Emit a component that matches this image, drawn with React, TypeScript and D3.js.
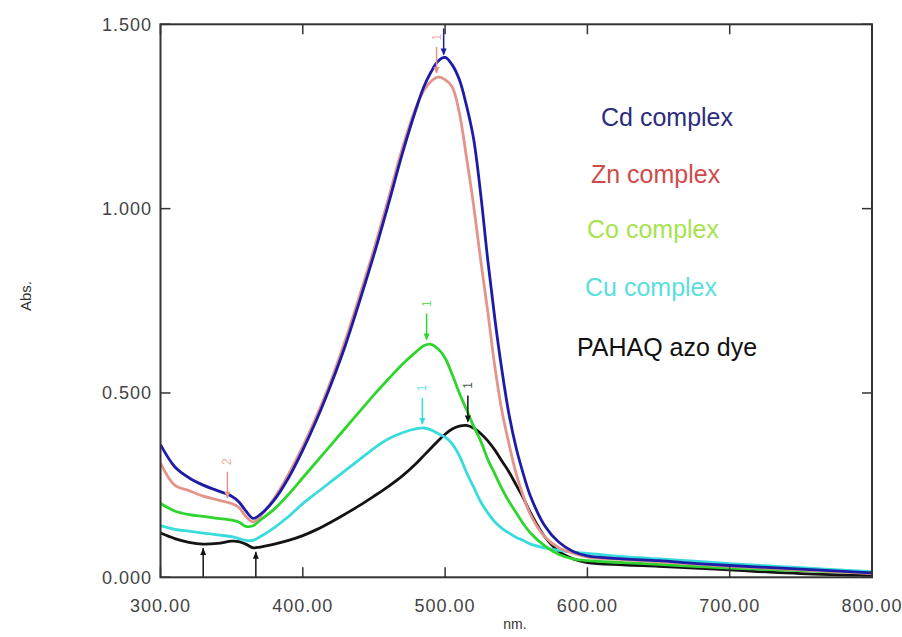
import { useMemo } from 'react'
import * as d3 from 'd3'

// wavelength grid (nm) shared by all spectra
const wavelengths = [
  300, 310, 320, 330, 340, 350, 355, 360, 365, 370, 380, 390, 400, 410, 420, 430, 440, 450,
  460, 470, 480, 485, 490, 495, 500, 505, 510, 515, 520, 525, 530, 535, 540, 545, 550, 555,
  560, 570, 580, 590, 600, 625, 650, 675, 700, 750, 800,
]

const cdAbs = [
  0.36, 0.30, 0.27, 0.25, 0.235, 0.22, 0.205, 0.18, 0.16, 0.17, 0.21, 0.27, 0.345, 0.43, 0.525, 0.63, 0.75, 0.875,
  1.01, 1.15, 1.275, 1.33, 1.37, 1.40, 1.41, 1.39, 1.35, 1.28, 1.19, 1.04, 0.86, 0.70, 0.56, 0.44, 0.35, 0.28,
  0.22, 0.14, 0.095, 0.07, 0.058, 0.05, 0.045, 0.038, 0.032, 0.022, 0.012,
]

const znAbs = [
  0.31, 0.25, 0.235, 0.22, 0.21, 0.2, 0.19, 0.165, 0.15, 0.165, 0.215, 0.28, 0.355, 0.44, 0.535, 0.645, 0.765, 0.89,
  1.025, 1.165, 1.28, 1.32, 1.345, 1.357, 1.35, 1.33, 1.26, 1.14, 1.01, 0.86, 0.72, 0.57, 0.45, 0.36, 0.28, 0.22,
  0.17, 0.11, 0.08, 0.065, 0.055, 0.048, 0.042, 0.036, 0.03, 0.02, 0.01,
]

const coAbs = [
  0.2, 0.18, 0.17, 0.165, 0.16, 0.155, 0.15, 0.138, 0.14, 0.155, 0.185, 0.225, 0.27, 0.315, 0.36, 0.405, 0.45, 0.495,
  0.537, 0.578, 0.613, 0.628, 0.632, 0.62, 0.595, 0.55, 0.5, 0.455, 0.41, 0.37, 0.32, 0.28, 0.24, 0.205, 0.175, 0.145,
  0.12, 0.085, 0.062, 0.05, 0.045, 0.04, 0.035, 0.03, 0.025, 0.018, 0.012,
]

const cuAbs = [
  0.14, 0.13, 0.125, 0.12, 0.115, 0.11, 0.105, 0.1, 0.1, 0.11, 0.135, 0.165, 0.2, 0.23, 0.26, 0.29, 0.32, 0.35,
  0.375, 0.392, 0.403, 0.405, 0.4, 0.39, 0.38, 0.362, 0.33, 0.285, 0.245, 0.205, 0.175, 0.15, 0.133, 0.12, 0.108, 0.1,
  0.09, 0.08, 0.073, 0.068, 0.065, 0.056, 0.05, 0.044, 0.037, 0.026, 0.015,
]

const dyeAbs = [
  0.12, 0.105, 0.095, 0.09, 0.092, 0.098, 0.097, 0.09, 0.08, 0.082, 0.09, 0.1, 0.113, 0.13, 0.15, 0.172, 0.195, 0.22,
  0.246, 0.275, 0.31, 0.33, 0.35, 0.37, 0.388, 0.402, 0.41, 0.412, 0.405, 0.39, 0.37, 0.345, 0.315, 0.285, 0.25, 0.215,
  0.175, 0.11, 0.07, 0.05, 0.04, 0.034, 0.03, 0.025, 0.02, 0.01, 0.005,
]

// drawn back to front
const series = [
  { name: 'PAHAQ azo dye', values: dyeAbs, color: '#141414', text: '#111111' },
  { name: 'Cu complex', values: cuAbs, color: '#38dcdc', text: '#5adede' },
  { name: 'Co complex', values: coAbs, color: '#2fd52f', text: '#a8e34e' },
  { name: 'Zn complex', values: znAbs, color: '#e3958c', text: '#cf4b4b' },
  { name: 'Cd complex', values: cdAbs, color: '#1c1ca6', text: '#2c2c7e' },
]

const legendOrder = ['Cd complex', 'Zn complex', 'Co complex', 'Cu complex', 'PAHAQ azo dye']

// peak-pick markers (nm, abs, label)
const peakMarks = [
  { nm: 499, abs: 1.407, label: '1', color: '#1c1ca6' },
  { nm: 494, abs: 1.357, label: '1', color: '#e3958c' },
  { nm: 487, abs: 0.634, label: '1', color: '#2fd52f' },
  { nm: 484, abs: 0.405, label: '1', color: '#38dcdc' },
  { nm: 516, abs: 0.412, label: '1', color: '#141414' },
  { nm: 347, abs: 0.205, label: '2', color: '#e3958c' },
]
const valleyMarks = [
  { nm: 330, abs: 0.09, color: '#141414' },
  { nm: 367, abs: 0.08, color: '#141414' },
]

const xTicks = [300, 400, 500, 600, 700, 800]
const yTicks = [0, 0.5, 1.0, 1.5]

export default function App() {
  const W = 902
  const H = 637
  const x = d3.scaleLinear().domain([300, 800]).range([160.5, 872])
  const y = d3.scaleLinear().domain([0, 1.5]).range([577.3, 24.3])
  const [x0, x1] = x.range()
  const [y0, y1] = y.range()

  const line = useMemo(
    () =>
      d3
        .line<number>()
        .x((_, i) => x(wavelengths[i]))
        .y((d) => y(d))
        .curve(d3.curveCatmullRom.alpha(0.5)),
    []
  )

  const font = 'Liberation Sans, Arial, sans-serif'

  return (
    <svg
      width={W}
      height={H}
      style={{ position: 'absolute', left: 0, top: 0, background: '#fff' }}
      fontFamily={font}
    >
      <defs>
        <clipPath id="plot">
          <rect x={x0} y={y1} width={x1 - x0} height={y0 - y1} />
        </clipPath>
      </defs>

      <g clipPath="url(#plot)">
        {series.map((s) => (
          <path key={s.name} d={line(s.values) || ''} fill="none" stroke={s.color} strokeWidth={2.8} strokeLinejoin="round" />
        ))}

        {peakMarks.map((m, i) => {
          const px = x(m.nm)
          const py = y(m.abs)
          return (
            <g key={'p' + i}>
              <line x1={px} x2={px} y1={py - 30} y2={py - 4} stroke={m.color} strokeWidth={1.5} />
              <path d={`M${px - 3},${py - 10} L${px + 3},${py - 10} L${px},${py - 3} Z`} fill={m.color} />
              <text
                x={px}
                y={py - 40}
                transform={`rotate(-90 ${px} ${py - 40})`}
                fontSize={12}
                fill={m.color}
                opacity={0.75}
                textAnchor="middle"
                dominantBaseline="central"
              >
                {m.label}
              </text>
            </g>
          )
        })}

        {valleyMarks.map((m, i) => {
          const px = x(m.nm)
          const py = y(m.abs)
          return (
            <g key={'v' + i}>
              <line x1={px} x2={px} y1={py + 4} y2={y0} stroke={m.color} strokeWidth={1.5} />
              <path d={`M${px - 3},${py + 11} L${px + 3},${py + 11} L${px},${py + 4} Z`} fill={m.color} />
            </g>
          )
        })}
      </g>

      {/* frame */}
      <rect x={x0} y={y1} width={x1 - x0} height={y0 - y1} fill="none" stroke="#333" strokeWidth={2} />

      {/* inward ticks on all four sides */}
      {xTicks.map((t) => (
        <g key={'xt' + t}>
          <line x1={x(t)} x2={x(t)} y1={y0} y2={y0 - 10} stroke="#333" strokeWidth={1.5} />
          <line x1={x(t)} x2={x(t)} y1={y1} y2={y1 + 10} stroke="#333" strokeWidth={1.5} />
          <text x={x(t)} y={612} textAnchor="middle" fontSize={18} letterSpacing={1} fill="#444">
            {d3.format('.2f')(t)}
          </text>
        </g>
      ))}
      {yTicks.map((t) => (
        <g key={'yt' + t}>
          <line x1={x0} x2={x0 + 10} y1={y(t)} y2={y(t)} stroke="#333" strokeWidth={1.5} />
          <line x1={x1} x2={x1 - 10} y1={y(t)} y2={y(t)} stroke="#333" strokeWidth={1.5} />
          <text x={152} y={y(t) + 6.5} textAnchor="end" fontSize={18} letterSpacing={1} fill="#444">
            {d3.format('.3f')(t)}
          </text>
        </g>
      ))}

      <text x={515} y={629} textAnchor="middle" fontSize={14} fill="#333">nm.</text>
      <text x={31} y={296} transform="rotate(-90 31 296)" textAnchor="middle" fontSize={15} fill="#333">
        Abs.
      </text>

      {legendOrder.map((name, i) => {
        const s = series.find((d) => d.name === name)!
        const pos = [
          [601, 126],
          [591, 183],
          [587, 238],
          [585, 296],
          [577, 356],
        ][i]
        return (
          <text key={name} x={pos[0]} y={pos[1]} fontSize={25} fill={s.text}>
            {name}
          </text>
        )
      })}
    </svg>
  )
}
